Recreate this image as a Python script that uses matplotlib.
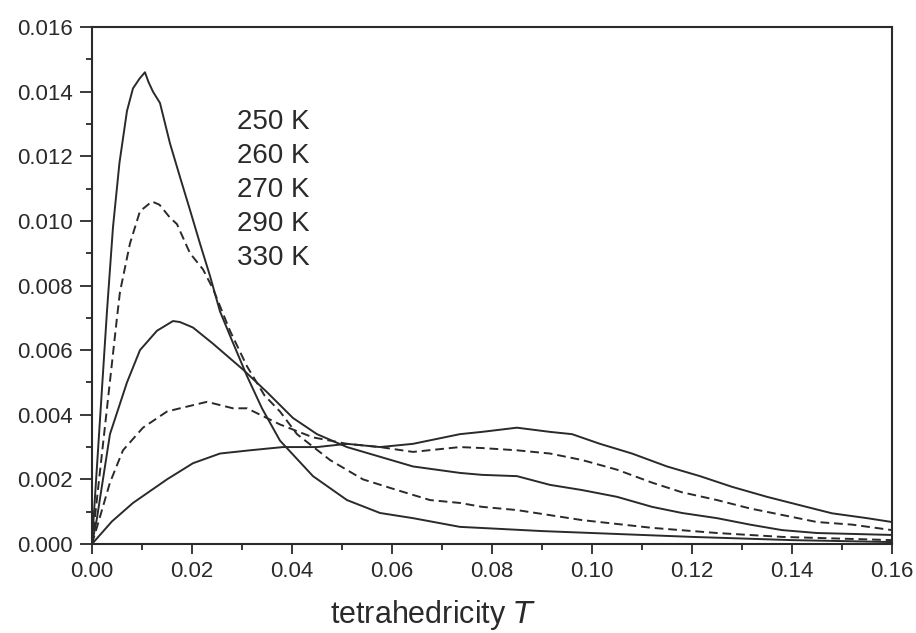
import numpy as np
import matplotlib
matplotlib.use('Agg')
import matplotlib.pyplot as plt
from matplotlib.ticker import MultipleLocator, FormatStrFormatter

plt.rcParams['font.family'] = ['Liberation Sans', 'DejaVu Sans']

# 读图得到的数据点 (x = tetrahedricity T, y = 分布)
x_250 = [0, 0.0015, 0.003, 0.0042, 0.0055, 0.007, 0.0082, 0.0095, 0.0106, 0.0113, 0.0122, 0.0136,
         0.0156, 0.0176, 0.0196, 0.0216, 0.0236, 0.0256, 0.028, 0.031, 0.034, 0.0376, 0.0442,
         0.051, 0.0576, 0.0642, 0.0736, 0.08, 0.09, 0.10, 0.12, 0.14, 0.16]
y_250 = [0, 0.0036, 0.0072, 0.0098, 0.0118, 0.0134, 0.0141, 0.0144, 0.0146, 0.0143, 0.0140, 0.01365,
         0.0124, 0.01136, 0.01034, 0.0093, 0.0083, 0.0072, 0.0063, 0.0052, 0.0042, 0.0032, 0.0021,
         0.00136, 0.00096, 0.0008, 0.00053, 0.00048, 0.0004, 0.00034, 0.00022, 0.00012, 0.00006]

x_260 = [0, 0.002, 0.005, 0.0056, 0.0076, 0.0096, 0.012, 0.0135, 0.0156, 0.017, 0.0196, 0.0222,
         0.0242, 0.0276, 0.031, 0.0345, 0.0376, 0.041, 0.0476, 0.0542, 0.061, 0.0676, 0.0736,
         0.078, 0.085, 0.098, 0.112, 0.125, 0.138, 0.16]
y_260 = [0, 0.0028, 0.0070, 0.0078, 0.0093, 0.0103, 0.0106, 0.0105, 0.0101, 0.0099, 0.0090, 0.0085,
         0.0079, 0.0066, 0.0055, 0.0046, 0.0041, 0.0034, 0.0026, 0.0020, 0.00167, 0.00136, 0.00127,
         0.00115, 0.00105, 0.00074, 0.0005, 0.00034, 0.00022, 0.00012]

x_270 = [0, 0.001, 0.0036, 0.007, 0.0096, 0.013, 0.0162, 0.0176, 0.0202, 0.0242, 0.0302, 0.035,
         0.0402, 0.045, 0.051, 0.0576, 0.0642, 0.0736, 0.078, 0.085, 0.0916, 0.098, 0.105, 0.112,
         0.118, 0.125, 0.1316, 0.138, 0.145, 0.16]
y_270 = [0, 0.0008, 0.0034, 0.0050, 0.0060, 0.0066, 0.0069, 0.00687, 0.0067, 0.0062, 0.0054, 0.0047,
         0.0039, 0.0034, 0.0030, 0.0027, 0.0024, 0.0022, 0.00214, 0.0021, 0.00183, 0.00167, 0.00146,
         0.00115, 0.00096, 0.0008, 0.0006, 0.00043, 0.00034, 0.00028]

x_290 = [0, 0.0016, 0.0036, 0.0062, 0.0102, 0.015, 0.0176, 0.023, 0.0282, 0.031, 0.0376, 0.0442,
         0.051, 0.0576, 0.0642, 0.0736, 0.078, 0.085, 0.0916, 0.098, 0.105, 0.112, 0.118, 0.125,
         0.1316, 0.138, 0.145, 0.152, 0.16]
y_290 = [0, 0.00084, 0.0019, 0.0029, 0.0036, 0.0041, 0.0042, 0.0044, 0.0042, 0.0042, 0.0037, 0.0033,
         0.0031, 0.0030, 0.00285, 0.0030, 0.00297, 0.0029, 0.0028, 0.0026, 0.0023, 0.0019, 0.0016,
         0.00136, 0.0011, 0.0009, 0.00068, 0.0006, 0.00043]

x_330 = [0, 0.004, 0.0082, 0.015, 0.0202, 0.0256, 0.0316, 0.0382, 0.045, 0.051, 0.0576, 0.0642,
         0.0736, 0.078, 0.085, 0.0916, 0.096, 0.1016, 0.108, 0.115, 0.1216, 0.128, 0.135, 0.1416,
         0.148, 0.155, 0.16]
y_330 = [0, 0.0007, 0.00127, 0.0020, 0.0025, 0.0028, 0.0029, 0.0030, 0.0030, 0.0031, 0.0030, 0.0031,
         0.0034, 0.00347, 0.0036, 0.00347, 0.0034, 0.0031, 0.0028, 0.0024, 0.0021, 0.00177, 0.00146,
         0.0012, 0.00095, 0.0008, 0.00068]

labels = ['250 K', '260 K', '270 K', '290 K', '330 K']

fig = plt.figure(figsize=(9.16, 6.33), dpi=100)
ax = fig.add_axes([0.1004, 0.1406, 0.8734, 0.8167])

lc = '#2a2a2a'
dash = (0, (4.5, 2.5))
ax.plot(x_250, y_250, color=lc, lw=1.4, ls='-')
ax.plot(x_260, y_260, color=lc, lw=1.4, ls=dash)
ax.plot(x_270, y_270, color=lc, lw=1.4, ls='-')
ax.plot(x_290, y_290, color=lc, lw=1.4, ls=dash)
ax.plot(x_330, y_330, color=lc, lw=1.4, ls='-')

# 温度标签
for i, lab in enumerate(labels):
    ax.text(0.029, 0.01306 - i * 0.00105, lab, fontsize=20, color=lc, va='center', ha='left')

ax.set_xlim(0, 0.16)
ax.set_ylim(0, 0.016)
ax.xaxis.set_major_locator(MultipleLocator(0.02))
ax.xaxis.set_minor_locator(MultipleLocator(0.01))
ax.yaxis.set_major_locator(MultipleLocator(0.002))
ax.yaxis.set_minor_locator(MultipleLocator(0.001))
ax.xaxis.set_major_formatter(FormatStrFormatter('%.2f'))
ax.yaxis.set_major_formatter(FormatStrFormatter('%.3f'))
ax.tick_params(which='major', direction='out', width=1.3, labelsize=16, colors=lc, pad=5)
ax.tick_params(axis='y', which='major', length=9)
ax.tick_params(axis='x', which='major', length=7.5)
ax.tick_params(which='minor', direction='out', length=4, width=1.3, colors=lc)
for s in ax.spines.values():
    s.set_linewidth(1.5)
    s.set_color(lc)

ax.set_xlabel('tetrahedricity $\\mathit{T}$', fontsize=22, color=lc)
ax.xaxis.set_label_coords(0.4255, -0.104)

fig.savefig('out.png', dpi=100)
